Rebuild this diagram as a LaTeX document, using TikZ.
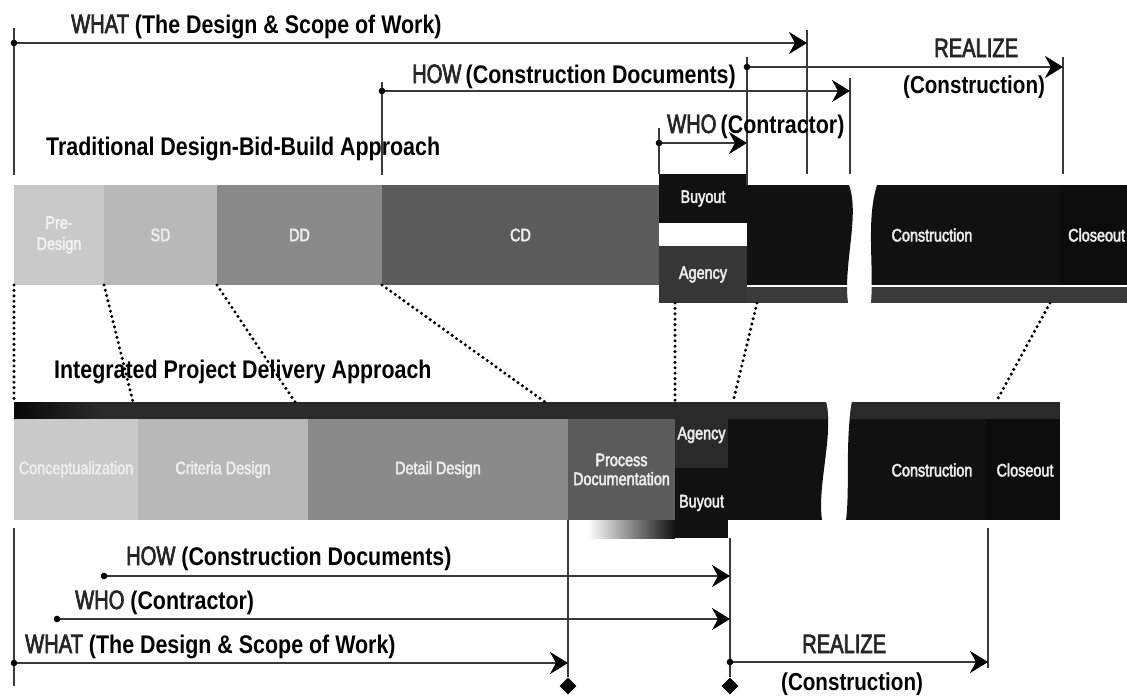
\documentclass[tikz,border=0pt]{standalone}
\usepackage{fontspec}
\setmainfont{Liberation Sans}
\newfontfamily\lblfont[FakeStretch=0.84]{Liberation Sans}
\newfontfamily\keyfont[FakeStretch=0.76]{Liberation Sans}
\newfontfamily\barfont[FakeStretch=0.80]{Liberation Sans}
\usetikzlibrary{arrows.meta,shapes.geometric}

\definecolor{predes}{HTML}{C9C9C9}
\definecolor{sdgray}{HTML}{B8B8B8}
\definecolor{ddgray}{HTML}{8A8A8A}
\definecolor{cdgray}{HTML}{5B5B5B}
\definecolor{constr}{HTML}{111111}
\definecolor{closeblk}{HTML}{0C0C0C}
\definecolor{agencygray}{HTML}{363636}
\definecolor{stripgray}{HTML}{3A3A3A}
\definecolor{ipdstrip}{HTML}{2A2A2A}
\definecolor{kwgray}{HTML}{262626}
\definecolor{linegray}{HTML}{3A3A3A}
\definecolor{bartxt}{HTML}{EEEEEE}

% medium-weight text: fill and stroke the glyph outlines
\newcommand\heavier[2]{\special{pdf:literal direct 2 Tr #1 w}#2\special{pdf:literal direct 0 Tr}}
\newcommand\kw[1]{{\keyfont\mdseries\color{kwgray}\fontsize{26.5}{28}\selectfont\heavier{0.7}{#1}}}
\newcommand\bt[1]{\heavier{0.45}{#1}}

\begin{document}
\begin{tikzpicture}[x=1pt,y=-1pt,
  blk/.style={rectangle, draw=none, inner sep=0pt, outer sep=0pt, anchor=north west,
    text=bartxt, align=center, font=\barfont\fontsize{18}{21}\selectfont},
  bartext/.style={inner sep=0pt, text=bartxt, align=center, font=\barfont\fontsize{18}{21}\selectfont},
  lbl/.style={inner sep=0pt, anchor=base west, font=\lblfont\bfseries\fontsize{25.5}{28}\selectfont},
  smalllbl/.style={inner sep=0pt, anchor=base west, font=\lblfont\bfseries\fontsize{24.5}{26}\selectfont},
  tickline/.style={line width=1.8pt, draw=linegray},
  spanarrow/.style={line width=2.4pt, draw=linegray, -{Stealth[length=18pt,width=22pt,inset=6pt,color=black]}},
  startdot/.style={fill=black},
  dotlink/.style={line width=3.4pt, dash pattern=on 0pt off 5.4pt, line cap=round, draw=black},
  milestone/.style={diamond, fill=black, inner sep=0pt, minimum width=17pt, minimum height=17pt}
]
\useasboundingbox (0,0) rectangle (1127,696);

% ---------------- Traditional design-bid-build bar ----------------
\node[blk, fill=predes, minimum width=90pt, minimum height=100pt, text=white!95!black] (pd) at (14,185) {\bt{Pre-}\\\bt{Design}};
\node[blk, fill=sdgray, minimum width=113pt, minimum height=100pt] (sd) at (104,185) {\bt{SD}};
\node[blk, fill=ddgray, minimum width=165pt, minimum height=100pt] (dd) at (217,185) {\bt{DD}};
\node[blk, fill=cdgray, minimum width=277pt, minimum height=100pt] (cd) at (382,185) {\bt{CD}};
\node[blk, fill=constr, minimum width=88pt, minimum height=49pt] (buy) at (659,174) {\bt{Buyout}};
\node[blk, fill=agencygray, minimum width=88pt, minimum height=57pt] (agy) at (659,246) {\bt{Agency}};

% construction, left of the break
\begin{scope}
  \clip (747,185) -- (849,185) .. controls (860,215) and (843,265) .. (848,303) -- (747,303) -- cycle;
  \fill[constr] (747,185) rectangle (870,285);
  \fill[stripgray] (747,287) rectangle (870,303);
\end{scope}
% construction and closeout, right of the break
\begin{scope}
  \clip (877,185) .. controls (866,220) and (874,265) .. (871,303) -- (1127,303) -- (1127,185) -- cycle;
  \fill[constr] (860,185) rectangle (1127,285);
  \fill[closeblk] (1060,185) rectangle (1127,285);
  \fill[stripgray] (860,287) rectangle (1127,303);
  \node[bartext] (con1) at (932,235) {\bt{Construction}};
  \node[bartext, anchor=west] (clo1) at (1068,235) {\bt{Closeout}};
\end{scope}

% ---------------- Integrated project delivery bar ----------------
\begin{scope}
  \clip (14,402) -- (826,402) .. controls (834,435) and (817,485) .. (822,520) -- (14,520) -- cycle;
  \fill[constr] (728,402) rectangle (840,520);
  \fill[ipdstrip] (14,402) rectangle (840,419);
  \shade[left color=black!97, right color=ipdstrip] (14,402) rectangle (100,419);
\end{scope}
\begin{scope}
  \clip (852,402) .. controls (845,440) and (850,490) .. (846,520) -- (1060,520) -- (1060,402) -- cycle;
  \fill[constr] (840,402) rectangle (1060,520);
  \fill[closeblk] (986,419) rectangle (1060,520);
  \fill[ipdstrip] (840,402) rectangle (1060,419);
\end{scope}
\node[bartext] (con2) at (932,470) {\bt{Construction}};
\node[bartext] (clo2) at (1025,470) {\bt{Closeout}};

\node[blk, fill=predes, minimum width=124pt, minimum height=101pt] (cpt) at (14,419) {\bt{Conceptualization}};
\node[blk, fill=sdgray, minimum width=170pt, minimum height=101pt] (cri) at (138,419) {\bt{Criteria Design}};
\node[blk, fill=ddgray, minimum width=260pt, minimum height=101pt] (det) at (308,419) {\bt{Detail Design}};
\node[blk, fill=cdgray, minimum width=107pt, minimum height=101pt] (prd) at (568,419) {\bt{Process}\\[-2pt]\bt{Documentation}};
\node[blk, fill=ipdstrip, minimum width=53pt, minimum height=66pt] (agy2) at (675,402) {\bt{Agency}};
\node[blk, fill=constr, minimum width=53pt, minimum height=70pt] (buy2) at (675,468) {\bt{Buyout}};
\shade[left color=white, right color=constr] (588,520) rectangle (675,538);

% ---------------- phase links between the two bars ----------------
\coordinate (l1) at (14,402);
\coordinate (l2) at (133,402);
\coordinate (l3) at (295,402);
\coordinate (l4) at (545,402);
\coordinate (l5) at (675,402);
\coordinate (l6) at (733,402);
\coordinate (l7) at (996,402);
\coordinate (u5) at (675,303);
\coordinate (u6) at (757,303);
\coordinate (u7) at (1050,303);
\draw[dotlink] (pd.south west) -- (l1);
\draw[dotlink] (sd.south west) -- (l2);
\draw[dotlink] (dd.south west) -- (l3);
\draw[dotlink] (cd.south west) -- (l4);
\draw[dotlink] (u5) -- (l5);
\draw[dotlink] (u6) -- (l6);
\draw[dotlink] (u7) -- (l7);

% ---------------- top time spans ----------------
\coordinate (a0) at (14,28);   \coordinate (a1) at (14,175);
\coordinate (b0) at (382,82);  \coordinate (b1) at (382,175);
\coordinate (c0) at (659,128);
\coordinate (d0) at (747,57);  \coordinate (d1) at (747,185);
\coordinate (e0) at (807,30);  \coordinate (e1) at (807,174);
\coordinate (f0) at (850,78);  \coordinate (f1) at (850,174);
\coordinate (g0) at (1063,57); \coordinate (g1) at (1063,174);
\draw[tickline] (a0) -- (a1);
\draw[tickline] (b0) -- (b1);
\draw[tickline] (c0) -- (buy.north west);
\draw[tickline] (d0) -- (d1);
\draw[tickline] (e0) -- (e1);
\draw[tickline] (f0) -- (f1);
\draw[tickline] (g0) -- (g1);

\coordinate (whatS) at (14,43);   \coordinate (whatE) at (807,43);
\coordinate (howS) at (382,91);   \coordinate (howE) at (850,91);
\coordinate (realS) at (747,67);  \coordinate (realE) at (1063,67);
\coordinate (whoS) at (659,143);  \coordinate (whoE) at (747,143);
\draw[spanarrow] (whatS) -- (whatE);
\draw[spanarrow] (howS) -- (howE);
\draw[spanarrow] (realS) -- (realE);
\draw[spanarrow] (whoS) -- (whoE);
\foreach \p in {whatS,howS,realS,whoS} \fill[startdot] (\p) circle[radius=3.3pt];

\node[lbl] (whatT) at (71,33) {\kw{WHAT} (The Design \& Scope of Work)};
\node[lbl] (howT) at (412,83) {\kw{HOW}\,(Construction Documents)};
\node[lbl] (whoT) at (667,133) {\kw{WHO}\,(Contractor)};
\node[lbl] (realT) at (934,57) {\kw{REALIZE}};
\node[smalllbl] (realC) at (903,93) {(Construction)};
\node[lbl] (trad) at (46,155) {Traditional Design-Bid-Build Approach};
\node[lbl] (ipd) at (54,378) {Integrated Project Delivery Approach};

% ---------------- bottom time spans ----------------
\node[milestone] (m1) at (568,686) {};
\node[milestone] (m2) at (730,686) {};
\coordinate (p0) at (14,528);  \coordinate (p1) at (14,686);
\coordinate (q0) at (568,520);
\coordinate (r0) at (730,538);
\coordinate (s0) at (988,528); \coordinate (s1) at (988,668);
\draw[tickline] (p0) -- (p1);
\draw[tickline] (q0) -- (m1.north);
\draw[tickline] (r0) -- (m2.north);
\draw[tickline] (s0) -- (s1);

\coordinate (howS2) at (104,576);  \coordinate (howE2) at (730,576);
\coordinate (whoS2) at (57,619);   \coordinate (whoE2) at (730,619);
\coordinate (whatS2) at (14,663);  \coordinate (whatE2) at (568,663);
\coordinate (realS2) at (730,662); \coordinate (realE2) at (988,662);
\draw[spanarrow] (howS2) -- (howE2);
\draw[spanarrow] (whoS2) -- (whoE2);
\draw[spanarrow] (whatS2) -- (whatE2);
\draw[spanarrow] (realS2) -- (realE2);
\foreach \p in {howS2,whoS2,whatS2,realS2} \fill[startdot] (\p) circle[radius=3.3pt];

\node[lbl] (howB) at (126,565) {\kw{HOW} (Construction Documents)};
\node[lbl] (whoB) at (75,609) {\kw{WHO} (Contractor)};
\node[lbl] (whatB) at (25,653) {\kw{WHAT} (The Design \& Scope of Work)};
\node[lbl] (realB) at (802,653) {\kw{REALIZE}};
\node[smalllbl] (realBC) at (781,690) {(Construction)};
\end{tikzpicture}
\end{document}
